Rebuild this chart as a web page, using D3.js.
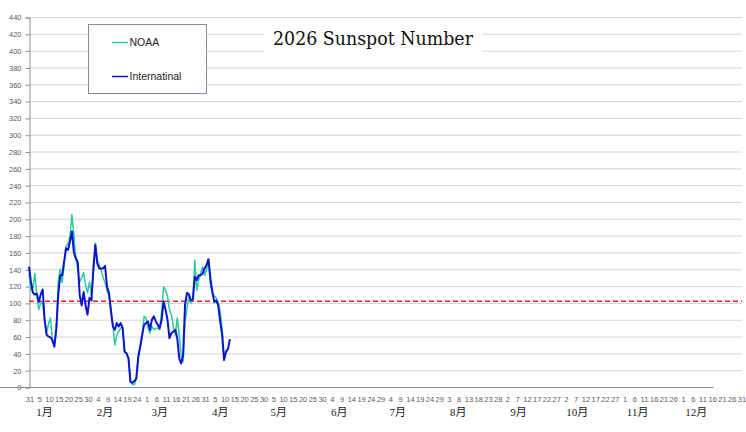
<!DOCTYPE html>
<html>
<head>
<meta charset="utf-8">
<script src="https://cdn.jsdelivr.net/npm/d3@7"></script>
<style>
  body { margin: 0; background: #fff; }
  svg { display: block; }
</style>
</head>
<body>
<script>
const WIDTH = 746;
const HEIGHT = 432;

// daily values, starting 2025-12-31
const noaa = [135, 115, 118, 135, 108, 92, 100, 100, 80, 64,
  75, 82, 54, 50, 65, 125, 140, 124, 145, 168,
  170, 180, 205, 181, 153, 140, 125, 130, 136, 121,
  112, 125, 109, 133, 171, 151, 145, 139, 130, 124,
  115, 108, 95, 74, 50, 62, 66, 70, 72, 42,
  40, 34, 8, 3, 3, 10, 38, 48, 58, 84,
  82, 70, 64, 72, 68, 70, 70, 68, 90, 119,
  115, 108, 92, 86, 72, 62, 82, 62, 36, 30,
  78, 94, 108, 100, 105, 151, 115, 127, 135, 143,
  133, 139, 151, 121, 112, 108, 106, 101, 90, 70,
  33, 43, 45];
const international = [143, 125, 112, 110, 111, 101, 110, 116, 80, 62,
  60, 59, 56, 48, 70, 110, 133, 133, 149, 165,
  163, 173, 185, 160, 153, 149, 109, 97, 113, 97,
  86, 106, 103, 141, 169, 147, 141, 141, 141, 144,
  119, 112, 90, 72, 68, 76, 72, 76, 70, 42,
  40, 34, 6, 5, 7, 10, 35, 48, 62, 74,
  76, 78, 68, 80, 84, 78, 74, 70, 80, 102,
  92, 80, 58, 64, 66, 68, 58, 34, 28, 38,
  98, 112, 110, 103, 104, 131, 127, 133, 133, 135,
  141, 145, 152, 129, 113, 101, 103, 97, 78, 62,
  32, 42, 45, 57];
const refLevel = 102;
const monthLabels = ["1月", "2月", "3月", "4月", "5月", "6月", "7月", "8月", "9月", "10月", "11月", "12月"];
const yTicks = d3.range(0, 441, 20);

const startDay = new Date(2025, 11, 31);
const endDay = new Date(2026, 11, 31);

const svg = d3.select("body").append("svg")
  .attr("width", WIDTH)
  .attr("height", HEIGHT);

const x = d3.scaleTime().domain([startDay, endDay]).range([29, 741]);
const y = d3.scaleLinear().domain([0, 440]).range([387, 17]);

// gridlines
svg.append("g")
  .selectAll("line")
  .data(yTicks.filter(function(d) { return d > 0; }))
  .enter().append("line")
  .attr("x1", 29).attr("x2", 742)
  .attr("y1", function(d) { return y(d) + 0.5; })
  .attr("y2", function(d) { return y(d) + 0.5; })
  .attr("stroke", "#d4d4d4")
  .attr("stroke-width", 1);

// y axis
const yAxis = svg.append("g")
  .attr("transform", "translate(29.5,0.5)")
  .call(d3.axisLeft(y).tickValues(yTicks).tickSize(4).tickPadding(4));
yAxis.select(".domain").attr("stroke", "#8c8c8c");
yAxis.selectAll(".tick line").attr("stroke", "#8c8c8c");
yAxis.selectAll(".tick text")
  .attr("fill", "#595959")
  .style("font-family", "Liberation Sans, Arial, sans-serif")
  .style("font-size", "7.5px");

// x axis
const dayTicks = d3.range(0, 366, 5).map(function(i) { return d3.timeDay.offset(startDay, i); });
const xAxis = svg.append("g")
  .attr("transform", "translate(0.5," + (y(0) + 0.5) + ")")
  .call(d3.axisBottom(x).tickValues(dayTicks).tickSize(0).tickPadding(9)
    .tickFormat(d3.timeFormat("%-d")));
xAxis.select(".domain").attr("stroke", "#8c8c8c").attr("d", "M-0.5,0H713");
xAxis.selectAll(".tick text")
  .attr("fill", "#595959")
  .style("font-family", "Liberation Sans, Arial, sans-serif")
  .style("font-size", "7.5px");

svg.append("g")
  .selectAll("text")
  .data(monthLabels)
  .enter().append("text")
  .attr("x", function(d, i) { return x(new Date(2026, i, 8)); })
  .attr("y", 416)
  .attr("text-anchor", "middle")
  .attr("fill", "#222")
  .style("font-family", "Liberation Serif, 'Noto Sans CJK JP', serif")
  .style("font-size", "11px")
  .text(function(d) { return d; });

// reference line
svg.append("line")
  .attr("x1", 29).attr("x2", 742)
  .attr("y1", y(refLevel)).attr("y2", y(refLevel))
  .attr("stroke", "#ff1a1a")
  .attr("stroke-width", 1.5)
  .attr("stroke-dasharray", "5,3");

// series
const line = d3.line()
  .x(function(d, i) { return x(d3.timeDay.offset(startDay, i)); })
  .y(function(d) { return y(d); });

svg.append("path")
  .datum(noaa)
  .attr("fill", "none")
  .attr("stroke", "#2cc8a0")
  .attr("stroke-width", 1.5)
  .attr("stroke-linejoin", "round")
  .attr("d", line);

svg.append("path")
  .datum(international)
  .attr("fill", "none")
  .attr("stroke", "#0c14cc")
  .attr("stroke-width", 2)
  .attr("stroke-linejoin", "round")
  .attr("d", line);

// title
svg.append("rect")
  .attr("x", 264).attr("y", 21)
  .attr("width", 218).attr("height", 31)
  .attr("fill", "#fff");
svg.append("text")
  .attr("x", 373).attr("y", 44.5)
  .attr("text-anchor", "middle")
  .attr("textLength", 200)
  .attr("lengthAdjust", "spacingAndGlyphs")
  .attr("fill", "#111")
  .style("font-family", "DejaVu Serif, serif")
  .style("font-size", "18px")
  .text("2026 Sunspot Number");

// legend
const legend = svg.append("g");
legend.append("rect")
  .attr("x", 88.5).attr("y", 24.5)
  .attr("width", 118).attr("height", 69)
  .attr("fill", "#fff")
  .attr("stroke", "#7f8ca6")
  .attr("stroke-width", 1);
const legendItems = [
  {name: "NOAA", color: "#2cc8a0", y: 42.5},
  {name: "Internatinal", color: "#0c14cc", y: 76.5}
];
legendItems.forEach(function(it) {
  legend.append("line")
    .attr("x1", 112).attr("x2", 128)
    .attr("y1", it.y).attr("y2", it.y)
    .attr("stroke", it.color)
    .attr("stroke-width", 1.5);
  legend.append("text")
    .attr("x", 129.5).attr("y", it.y + 3.8)
    .attr("fill", "#222")
    .style("font-family", "Liberation Sans, Arial, sans-serif")
    .style("font-size", "10.5px")
    .text(it.name);
});
</script>
</body>
</html>
